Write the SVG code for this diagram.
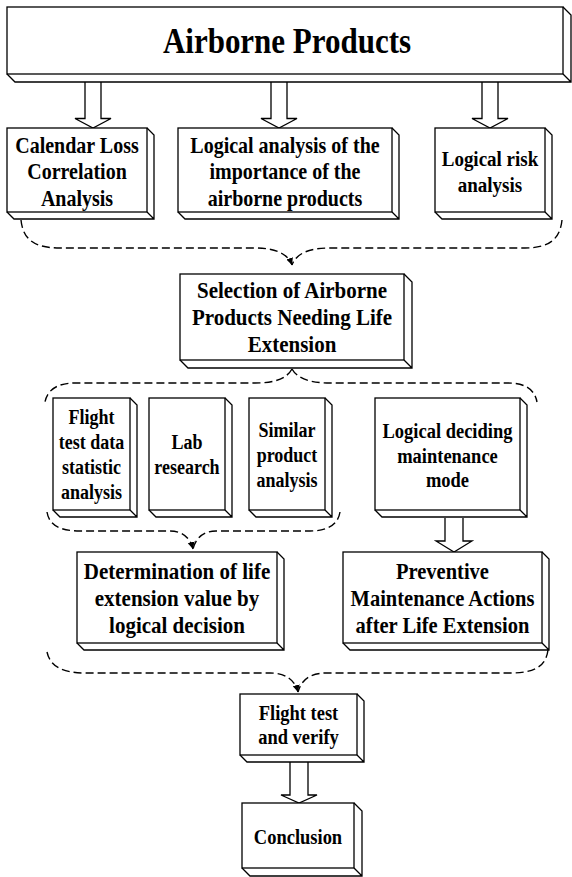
<svg xmlns="http://www.w3.org/2000/svg" width="572" height="877" viewBox="0 0 572 877">
<style>
.f{fill:#fff;stroke:#000;stroke-width:1.3}
.e{fill:none;stroke:#000;stroke-width:1.3;stroke-linejoin:miter}
.a{fill:#fff;stroke:#000;stroke-width:1.3}
.d{fill:none;stroke:#000;stroke-width:1.4;stroke-dasharray:8 4}
text{font-family:"Liberation Serif","Times New Roman",serif;font-weight:bold;fill:#000;text-anchor:middle;transform-box:fill-box;transform-origin:center;transform:scaleY(1.13)}
</style>
<defs>
<marker id="ah" markerWidth="8" markerHeight="8" refX="7" refY="4" orient="auto" markerUnits="userSpaceOnUse">
<path d="M0,0.5 L7,4 L0,7.5 Z" fill="#000"/>
</marker>
</defs>
<rect width="572" height="877" fill="#fff"/>

<g id="connectors">
<path class="a" d="M85,82 V118.5 H75 L93,128 L111,118.5 H101 V82"/>
<path class="a" d="M271,82 V118.5 H261 L279,128 L297,118.5 H287 V82"/>
<path class="a" d="M482,82 V118.5 H472 L490,128 L508,118.5 H498 V82"/>
<path class="d" d="M21,220 C23,240 35,248 60,248 L255,248 C276,248 288,254 292,265" marker-end="url(#ah)"/>
<path class="d" d="M562,220 C560,240 548,248 525,248 L330,248 C308,248 296,254 292,265"/>
<path class="d" d="M292,369 C287,378 276,383 255,383 L75,383 C56,383 47,391 45,402"/>
<path class="d" d="M292,369 C297,378 309,383 330,383 L508,383 C527,383 535,391 537,402"/>
<path class="d" d="M47,512 C49,525 60,531 80,531 L170,531 C183,531 190,538 193,549" marker-end="url(#ah)"/>
<path class="d" d="M340,512 C338,525 327,531 310,531 L216,531 C203,531 196,538 193,549"/>
<path class="a" d="M445,518 V541 H436 L454,552 L472,541 H463 V518"/>
<path class="d" d="M47,652 C50,666 62,673 85,673 L270,673 C287,673 295,681 298,692" marker-end="url(#ah)"/>
<path class="d" d="M548,650 C546,666 535,673 510,673 L326,673 C309,673 301,681 298,692"/>
<path class="a" d="M290,762 V795 H281 L299,803 L317,795 H308 V762"/>
</g>

<g id="airborne-products">
<rect class="f" x="7" y="7" width="556" height="67"/>
<path class="e" d="M7,74 L15,82 L571,82 L571,15 L563,7 M563,74 L571,82"/>
<text x="287" y="52" font-size="31">Airborne Products</text>
</g>

<g id="calendar-loss">
<rect class="f" x="7" y="128" width="140" height="84"/>
<path class="e" d="M7,212 L14,219 L154,219 L154,135 L147,128 M147,212 L154,219"/>
<text x="77" y="152" font-size="20">Calendar Loss</text>
<text x="77" y="178" font-size="20">Correlation</text>
<text x="77" y="205" font-size="20">Analysis</text>
</g>

<g id="importance-analysis">
<rect class="f" x="178" y="128" width="214" height="84"/>
<path class="e" d="M178,212 L185,219 L399,219 L399,135 L392,128 M392,212 L399,219"/>
<text x="285" y="152" font-size="20">Logical analysis of the</text>
<text x="285" y="178" font-size="20">importance of the</text>
<text x="285" y="205" font-size="20">airborne products</text>
</g>

<g id="risk-analysis">
<rect class="f" x="435" y="128" width="110" height="84"/>
<path class="e" d="M435,212 L442,219 L552,219 L552,135 L545,128 M545,212 L552,219"/>
<text x="490" y="165" font-size="19">Logical risk</text>
<text x="490" y="191" font-size="19">analysis</text>
</g>

<g id="selection">
<rect class="f" x="180" y="274" width="224" height="86"/>
<path class="e" d="M180,360 L188,368 L412,368 L412,282 L404,274 M404,360 L412,368"/>
<text x="292" y="297" font-size="21">Selection of Airborne</text>
<text x="292" y="324" font-size="21">Products Needing Life</text>
<text x="292" y="351" font-size="21">Extension</text>
</g>

<g id="flight-test-data">
<rect class="f" x="53" y="398" width="77" height="112"/>
<path class="e" d="M53,510 L60,517 L137,517 L137,405 L130,398 M130,510 L137,517"/>
<text x="91.5" y="423" font-size="18">Flight</text>
<text x="91.5" y="448" font-size="18">test data</text>
<text x="91.5" y="473" font-size="18">statistic</text>
<text x="91.5" y="498" font-size="18">analysis</text>
</g>

<g id="lab-research">
<rect class="f" x="149" y="398" width="76" height="112"/>
<path class="e" d="M149,510 L156,517 L232,517 L232,405 L225,398 M225,510 L232,517"/>
<text x="187" y="448" font-size="18">Lab</text>
<text x="187" y="473" font-size="18">research</text>
</g>

<g id="similar-product">
<rect class="f" x="249" y="398" width="76" height="112"/>
<path class="e" d="M249,510 L256,517 L332,517 L332,405 L325,398 M325,510 L332,517"/>
<text x="287" y="436" font-size="18">Similar</text>
<text x="287" y="461" font-size="18">product</text>
<text x="287" y="486" font-size="18">analysis</text>
</g>

<g id="maintenance-mode">
<rect class="f" x="375" y="398" width="145" height="112"/>
<path class="e" d="M375,510 L382,517 L527,517 L527,405 L520,398 M520,510 L527,517"/>
<text x="447.5" y="437" font-size="18.5">Logical deciding</text>
<text x="447.5" y="462" font-size="18.5">maintenance</text>
<text x="447.5" y="486" font-size="18.5">mode</text>
</g>

<g id="determination">
<rect class="f" x="77" y="552" width="200" height="91"/>
<path class="e" d="M77,643 L84,650 L284,650 L284,559 L277,552 M277,643 L284,650"/>
<text x="177" y="578" font-size="21">Determination of life</text>
<text x="177" y="605" font-size="21">extension value by</text>
<text x="177" y="632" font-size="21">logical decision</text>
</g>

<g id="preventive-maintenance">
<rect class="f" x="343" y="552" width="199" height="91"/>
<path class="e" d="M343,643 L350,650 L549,650 L549,559 L542,552 M542,643 L549,650"/>
<text x="442.5" y="578" font-size="20.5">Preventive</text>
<text x="442.5" y="605" font-size="20.5">Maintenance Actions</text>
<text x="442.5" y="632" font-size="20.5">after Life Extension</text>
</g>

<g id="flight-test-verify">
<rect class="f" x="240" y="694" width="117" height="61"/>
<path class="e" d="M240,755 L247,762 L364,762 L364,701 L357,694 M357,755 L364,762"/>
<text x="298.5" y="719" font-size="18.5">Flight test</text>
<text x="298.5" y="743" font-size="18.5">and verify</text>
</g>

<g id="conclusion">
<rect class="f" x="242" y="803" width="112" height="65"/>
<path class="e" d="M242,868 L250,876 L362,876 L362,811 L354,803 M354,868 L362,876"/>
<text x="298" y="843" font-size="18.5">Conclusion</text>
</g>
</svg>
